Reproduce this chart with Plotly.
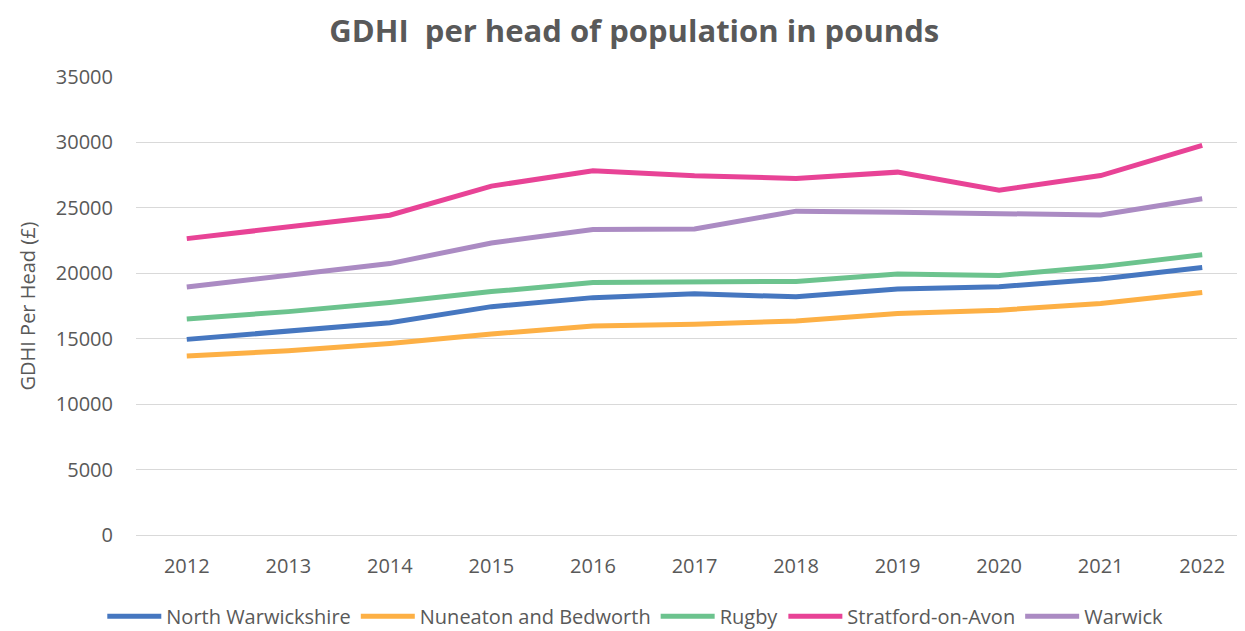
import plotly.graph_objects as go

years = ['2012', '2013', '2014', '2015', '2016', '2017', '2018', '2019', '2020', '2021', '2022']

north_warwickshire = [14950, 15540, 16220, 17450, 18140, 18430, 18200, 18800, 18970, 19560, 20440]
nuneaton_bedworth = [13670, 14080, 14640, 15360, 15970, 16100, 16360, 16920, 17180, 17690, 18530]
rugby = [16510, 17070, 17760, 18600, 19290, 19380, 19380, 19950, 19830, 20510, 21410]
stratford = [22650, 23550, 24440, 26660, 27830, 27450, 27250, 27730, 26350, 27470, 29770]
warwick = [18950, 19850, 20740, 22320, 23340, 23390, 24750, 24670, 24570, 24450, 25700]

series = [
    ('North Warwickshire', north_warwickshire, '#4677c0'),
    ('Nuneaton and Bedworth', nuneaton_bedworth, '#fdb045'),
    ('Rugby', rugby, '#6cc38e'),
    ('Stratford-on-Avon', stratford, '#e84396'),
    ('Warwick', warwick, '#ab8bc3'),
]

fig = go.Figure()
for name, vals, col in series:
    fig.add_trace(go.Scatter(x=years, y=vals, mode='lines', name=name,
                             line=dict(color=col, width=5)))

fig.update_layout(
    width=1245, height=631,
    margin=dict(l=128, r=0, t=69, b=104),
    plot_bgcolor='white', paper_bgcolor='white',
    font=dict(family='Open Sans', color='#595959', size=19),
    title=dict(text='<b>GDHI  per head of population in pounds</b>',
               x=0.503, xanchor='center', y=0.963, yanchor='middle',
               font=dict(size=31, color='#595959', family='Open Sans')),
    legend=dict(orientation='h', x=0.447, xanchor='center',
                y=-0.135, yanchor='top',
                font=dict(size=20, color='#595959', family='Open Sans'),
                itemwidth=54, tracegroupgap=0),
    showlegend=True,
)
fig.update_xaxes(type='category', range=[-0.5, 10.5], showgrid=False, showline=False,
                 ticks='', ticklabelstandoff=17, tickfont=dict(size=20, color='#595959'))
fig.update_yaxes(range=[0, 35000], dtick=5000, tickformat='d', showgrid=True,
                 gridcolor='#d9d9d9', gridwidth=1, zeroline=True, zerolinecolor='#d9d9d9',
                 zerolinewidth=1, ticks='', ticklabelstandoff=22, automargin=False,
                 title=dict(text='GDHI Per Head (£)', font=dict(size=20, color='#595959'), standoff=14),
                 tickfont=dict(size=20, color='#595959'))

fig.write_html("out.html")
